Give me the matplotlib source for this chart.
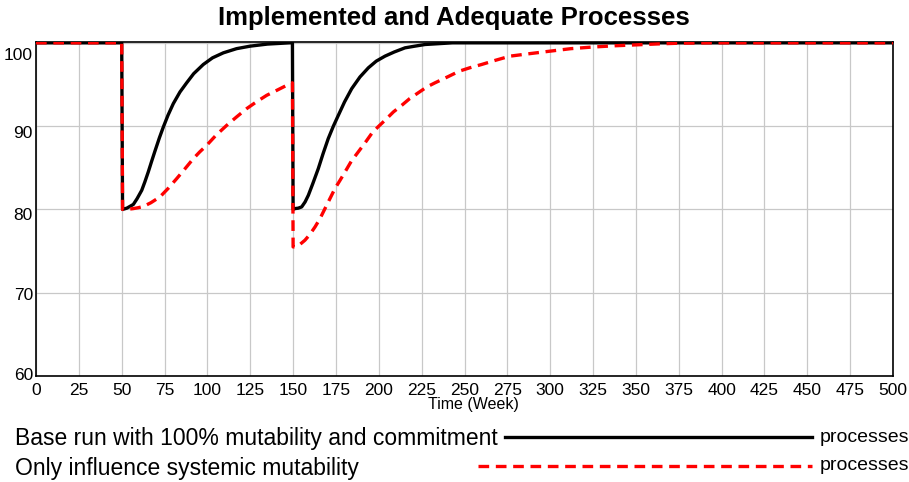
import matplotlib
matplotlib.use("Agg")
import matplotlib.pyplot as plt
import matplotlib.transforms as mtransforms
from matplotlib.lines import Line2D

# Base run with 100% mutability and commitment
base_t = [0, 50, 50.5, 53, 56.8, 59, 61.7, 63.5, 65.5, 67.5, 69.4, 72, 74.3, 77, 80.1, 84, 87.9, 92, 97.6,
          103, 109.3, 117, 124.9, 135, 148, 149.6,
          150, 151.1, 153, 155, 157, 158.9, 161.5, 164.7, 167.5, 170.5, 173.5, 176.4, 180, 184.2, 189,
          193.9, 198.5, 203.6, 209, 215.3, 221, 227, 235, 243, 500]
base_v = [100, 100, 80, 80.15, 80.6, 81.3, 82.3, 83.3, 84.5, 85.8, 87.0, 88.6, 89.9, 91.3, 92.7, 94.1, 95.2, 96.3, 97.4,
          98.2, 98.8, 99.3, 99.6, 99.85, 100, 100,
          80, 80.1, 80.15, 80.3, 80.9, 81.7, 83.1, 84.9, 86.7, 88.5, 90.0, 91.3, 92.9, 94.5, 95.9,
          97.0, 97.8, 98.4, 98.9, 99.4, 99.6, 99.8, 99.9, 100, 100]

# Only influence systemic mutability
sys_t = [0, 50, 50.5, 53, 56.8, 59.5, 62.6, 67, 72.3, 77, 82.1, 87, 91.8, 95.5, 99.6, 105, 111.3, 117, 122.9,
         128.5, 134.6, 140.5, 146.3, 149.6,
         150, 151.1, 154, 156.9, 159.8, 162.8, 165.7, 168.6, 171.5, 174.4, 177.4, 180.3, 184, 188, 192,
         195.8, 199.5, 203.6, 208.5, 213.4, 218, 223, 228, 232.8, 240, 247, 253, 260, 268, 276.5, 288,
         299.9, 312, 325, 338, 350.5, 363, 375.7, 395, 500]
sys_v = [100, 100, 80, 80.0, 80.1, 80.2, 80.35, 80.8, 81.5, 82.5, 83.7, 84.9, 86.1, 86.9, 87.7, 88.9, 90.1, 91.1, 92.1,
         92.9, 93.7, 94.3, 94.9, 95.2,
         75.5, 75.5, 75.8, 76.3, 77.0, 77.9, 78.9, 80.1, 81.3, 82.5, 83.5, 84.5, 85.8, 86.9, 88.0,
         89.1, 89.9, 90.7, 91.7, 92.5, 93.3, 94.0, 94.7, 95.2, 95.9, 96.6, 97.0, 97.4, 97.9, 98.4, 98.7,
         99.0, 99.3, 99.5, 99.65, 99.76, 99.87, 99.96, 100, 100]

x_ticks = list(range(0, 501, 25))
y_ticks = [60, 70, 80, 90, 100]
series_labels = ["Base run with 100% mutability and commitment", "Only influence systemic mutability"]

plt.rcParams['font.family'] = ['Liberation Sans', 'DejaVu Sans']

fig = plt.figure(figsize=(9.09, 4.82), dpi=100)
ax = fig.add_axes([36 / 909, 1 - 376 / 482, (893 - 36) / 909, (376 - 42) / 482])

ax.plot(base_t, base_v, color='black', lw=2.4, zorder=3, solid_joinstyle='round')
ax.plot(sys_t, sys_v, color='red', lw=2.4, dashes=(3.2, 2.0), zorder=4)

ax.set_xlim(0, 500)
ax.set_ylim(60, 100.1)
ax.set_xticks(x_ticks)
ax.set_yticks(y_ticks)
ax.set_yticklabels([])
ax.grid(True, color='#c8c8c8', lw=0.9)
ax.tick_params(length=0, labelsize=12.5)
ax.tick_params(axis='x', pad=5)
for sp in ax.spines.values():
    sp.set_linewidth(1.2)

# Vensim style: y labels drift below their grid lines towards the top
label_drop_px = [-1, 3, 6, 7.5, 13]
base_tr = mtransforms.blended_transform_factory(ax.transAxes, ax.transData)
for v, d in zip(y_ticks, label_drop_px):
    tr = base_tr + mtransforms.ScaledTranslation(-3 / 100, -d / 100, fig.dpi_scale_trans)
    ax.text(0, v, str(v), transform=tr, ha='right', va='center', fontsize=12.5)

fig.text(454 / 909, 1 - 18 / 482, "Implemented and Adequate Processes", ha='center', va='center',
         fontsize=18.5, fontweight='bold')
fig.text(473 / 909, 1 - 404 / 482, "Time (Week)", ha='center', va='center', fontsize=11.5)

# legend drawn in Vensim fashion
fig.text(15 / 909, 1 - 439 / 482, series_labels[0], ha='left', va='center', fontsize=16.5)
fig.text(15 / 909, 1 - 469 / 482, series_labels[1], ha='left', va='center', fontsize=16.5)
fig.add_artist(Line2D([505 / 909, 812 / 909], [1 - 437 / 482] * 2, color='black', lw=2.4))
fig.add_artist(Line2D([478 / 909, 812 / 909], [1 - 466 / 482] * 2, color='red', lw=2.4, dashes=(3.2, 2.0)))
fig.text(820 / 909, 1 - 437 / 482, "processes", ha='left', va='center', fontsize=14)
fig.text(820 / 909, 1 - 466 / 482, "processes", ha='left', va='center', fontsize=14)

fig.savefig("out.png", dpi=100)
